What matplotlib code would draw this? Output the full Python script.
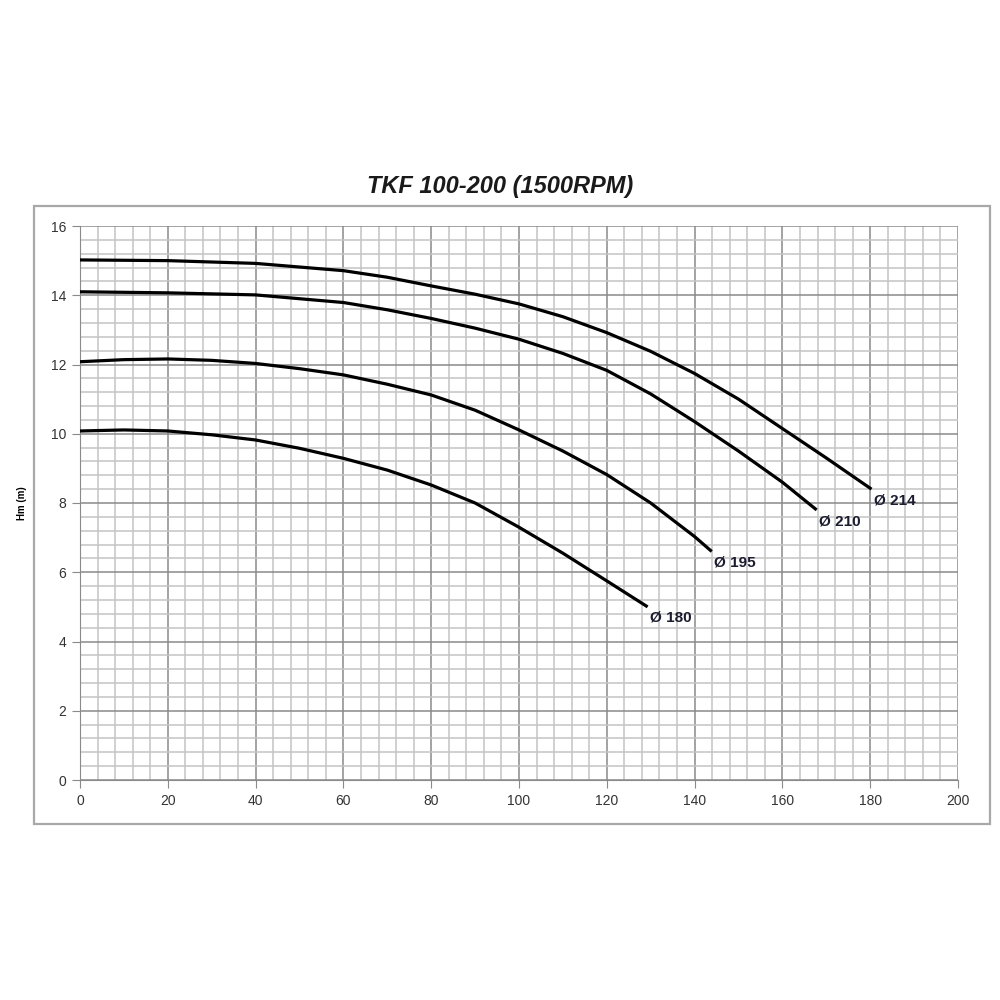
import matplotlib
matplotlib.use("Agg")
import matplotlib.pyplot as plt
from matplotlib.patches import Rectangle
from matplotlib.ticker import MultipleLocator

plt.rcParams['font.family'] = ['Liberation Sans', 'DejaVu Sans']

# flow Q (m3/h) and head Hm (m)
q_214 = [0, 20, 40, 60, 70, 80, 90, 100, 110, 120, 130, 140, 150, 160, 170, 180.3]
h_214 = [15.02, 15.0, 14.92, 14.71, 14.52, 14.27, 14.03, 13.75, 13.38, 12.92,
         12.38, 11.74, 11.0, 10.15, 9.3, 8.4]

q_210 = [0, 20, 40, 60, 70, 80, 90, 100, 110, 120, 130, 140, 150, 160, 167.8]
h_210 = [14.10, 14.07, 14.01, 13.79, 13.58, 13.33, 13.05, 12.73, 12.32, 11.83,
         11.15, 10.35, 9.5, 8.6, 7.8]

q_195 = [0, 10, 20, 30, 40, 50, 60, 70, 80, 90, 100, 110, 120, 130, 140, 143.9]
h_195 = [12.08, 12.14, 12.16, 12.12, 12.03, 11.88, 11.70, 11.43, 11.12, 10.68,
         10.11, 9.5, 8.82, 8.0, 7.03, 6.6]

q_180 = [0, 10, 20, 30, 40, 50, 60, 70, 80, 90, 100, 110, 120, 129.3]
h_180 = [10.08, 10.11, 10.08, 9.97, 9.82, 9.58, 9.29, 8.95, 8.52, 8.0, 7.3,
         6.55, 5.75, 5.0]

curves = [(q_214, h_214, "Ø 214"), (q_210, h_210, "Ø 210"),
          (q_195, h_195, "Ø 195"), (q_180, h_180, "Ø 180")]

fig = plt.figure(figsize=(10, 10), dpi=100)
ax = fig.add_axes([0.08, 0.22, 0.878, 0.554])

# outer chart frame
fig.patches.append(Rectangle((0.034, 0.176), 0.956, 0.618, transform=fig.transFigure,
                             fill=False, edgecolor="#a8a8a8", linewidth=1.6))

for q, h, lab in curves:
    ax.plot(q, h, color="black", linewidth=2.3, solid_joinstyle="round",
            solid_capstyle="butt", zorder=3)
    ax.annotate(lab, (q[-1], h[-1]), xytext=(2, -8), textcoords="offset points",
                ha="left", va="center", fontsize=11, fontweight="bold", color="#1c1c30")

ax.set_xlim(0, 200)
ax.set_ylim(0, 16)
ax.xaxis.set_major_locator(MultipleLocator(20))
ax.xaxis.set_minor_locator(MultipleLocator(4))
ax.yaxis.set_major_locator(MultipleLocator(2))
ax.yaxis.set_minor_locator(MultipleLocator(0.4))
ax.grid(which="major", color="#8a8a8a", linewidth=1.1)
ax.grid(which="minor", color="#c4c4c4", linewidth=1.1)
ax.set_axisbelow(True)

for s in ["top", "right"]:
    ax.spines[s].set_visible(False)
ax.spines["left"].set_color("#8a8a8a")
ax.spines["bottom"].set_color("#8a8a8a")
ax.tick_params(which="major", length=6, color="#8a8a8a", labelsize=10, labelcolor="#333333", pad=4)
ax.tick_params(which="minor", length=0)

ax.set_ylabel("Hm (m)", fontsize=7, fontweight="bold", labelpad=17)
fig.text(0.5, 0.813, "TKF 100-200 (1500RPM)", ha="center", va="center",
         fontsize=17, fontweight="bold", fontstyle="italic", color="#1a1a1a")

fig.savefig("out.png", dpi=100)
